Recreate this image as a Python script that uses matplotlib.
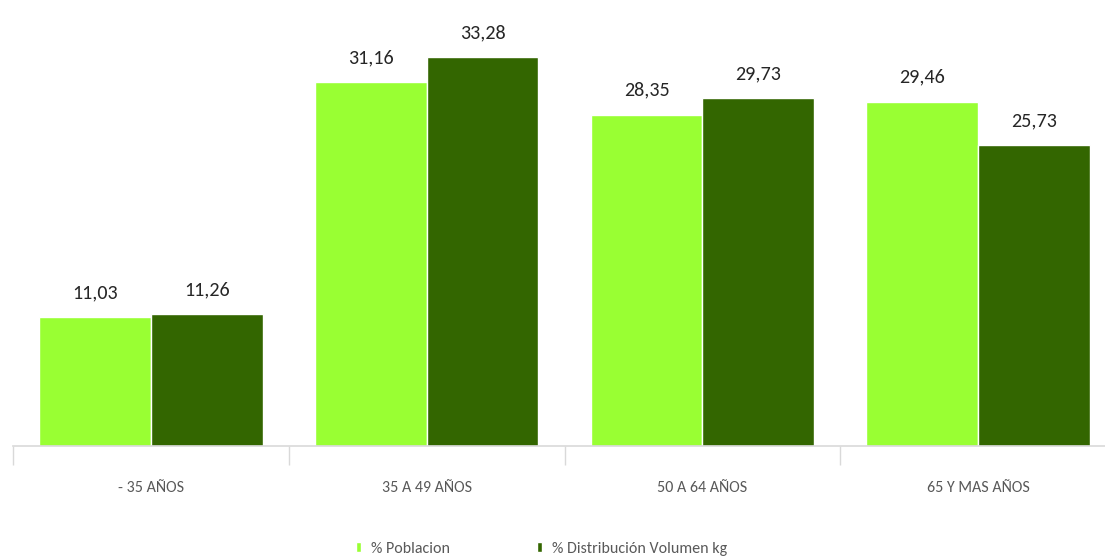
import numpy as np
import matplotlib.pyplot as plt
from matplotlib import font_manager

categories = ["- 35 AÑOS", "35 A 49 AÑOS", "50 A 64 AÑOS", "65 Y MAS AÑOS"]
poblacion = [11.03, 31.16, 28.35, 29.46]
volumen = [11.26, 33.28, 29.73, 25.73]
series_names = ["% Poblacion", "% Distribución Volumen kg"]

light = "#99FF33"
dark = "#336600"

# pick a narrow font with a regular/light face
def wnum(wt):
    return wt if isinstance(wt, int) else font_manager.weight_dict.get(wt, 400)

thin = {f.name for f in font_manager.fontManager.ttflist if wnum(f.weight) <= 400}
wanted = ["Open Sans Condensed Light", "Open Sans Condensed", "Carlito", "Liberation Sans Narrow",
          "PT Sans Narrow", "Roboto Condensed", "Fira Sans Condensed", "Archivo Narrow"]
font = next((n for n in wanted if n in thin), "DejaVu Sans")
plt.rcParams['font.family'] = [font, 'DejaVu Sans']

fig = plt.figure(figsize=(11.05, 5.58), dpi=100)
ax = fig.add_axes([13 / 1105, 112 / 558, 1103 / 1105, 446 / 558])

x = np.arange(len(categories))
w = 0.405
b1 = ax.bar(x - w / 2, poblacion, w, color=light, edgecolor="white", linewidth=1, label=series_names[0])
b2 = ax.bar(x + w / 2, volumen, w, color=dark, edgecolor="white", linewidth=1, label=series_names[1])

for bars, vals in [(b1, poblacion), (b2, volumen)]:
    for r, v in zip(bars, vals):
        ax.text(r.get_x() + r.get_width() / 2, v + 1.35, f"{v:.2f}".replace(".", ","),
                ha="center", va="bottom", fontsize=14.5, color="#262626")

ax.set_xlim(-0.5, 3.5)
ax.set_ylim(0, 38.15)
ax.set_yticks([])
for s in ["top", "right", "left"]:
    ax.spines[s].set_visible(False)
ax.spines["bottom"].set_color("#d9d9d9")
ax.spines["bottom"].set_linewidth(1.2)

ax.set_xticks(np.arange(-0.5, 4.0, 1.0), minor=True)
ax.set_xticks(x)
ax.set_xticklabels(categories, fontsize=11.5, color="#595959")
ax.tick_params(axis="x", which="major", length=0, pad=25)
ax.tick_params(axis="x", which="minor", length=14, color="#d9d9d9", width=1)

fig.legend(handles=[b1, b2], labels=series_names, loc="lower center",
           bbox_to_anchor=(0.49, -0.022), ncol=2, frameon=False, fontsize=11.5,
           handlelength=0.33, handleheight=0.55, columnspacing=5.4, handletextpad=0.65,
           labelcolor="#595959")

fig.savefig("out.png", dpi=100)
